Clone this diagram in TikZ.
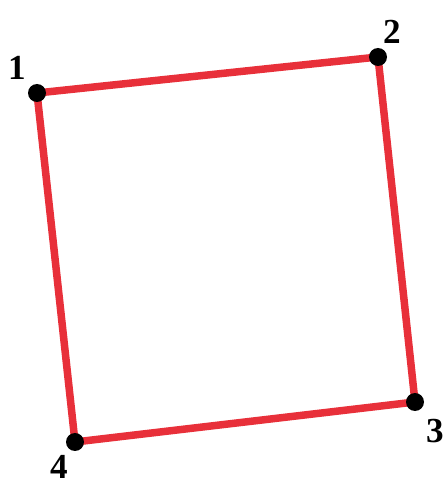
\documentclass[tikz,border=0pt]{standalone}
\usepackage{fontspec}
\setmainfont{Liberation Serif}
\usepackage{tikz}
\usetikzlibrary{positioning,backgrounds}
\definecolor{edgecolor}{RGB}{232,48,58}

\begin{document}
\begin{tikzpicture}[
    vertex/.style={circle, fill=black, inner sep=0pt, minimum size=0.36cm},
    vlabel/.style={font=\fontsize{20}{20}\selectfont\bfseries, inner sep=0pt},
    edge/.style={edgecolor, line width=0.15cm, line cap=round}
]
\useasboundingbox (0,0) rectangle (8.9,9.72);

% Vertices
\node[vertex] (p1) at (0.74, 7.86) {};
\node[vertex] (p2) at (7.56, 8.58) {};
\node[vertex] (p3) at (8.30, 1.68) {};
\node[vertex] (p4) at (1.50, 0.88) {};

% Labels
\node[vlabel] (l1) at (0.34, 8.36) {1};
\node[vlabel] (l2) at (7.84, 9.08) {2};
\node[vlabel] (l3) at (8.70, 1.10) {3};
\node[vlabel] (l4) at (1.18, 0.38) {4};

% Edges
\begin{scope}[on background layer]
\draw[edge] (p1.center) -- (p2.center) -- (p3.center) -- (p4.center) -- cycle;
\end{scope}

\end{tikzpicture}
\end{document}
